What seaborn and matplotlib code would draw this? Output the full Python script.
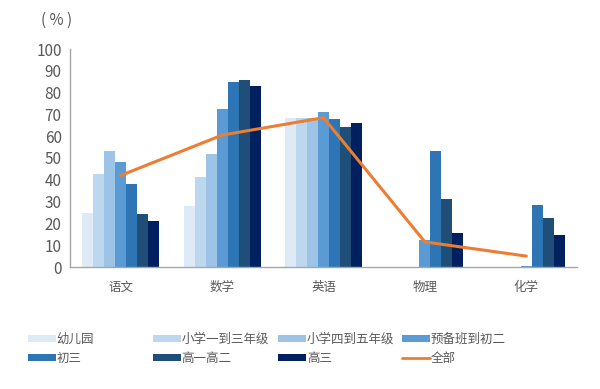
import numpy as np
import pandas as pd
import matplotlib
matplotlib.use("Agg")
import matplotlib.pyplot as plt
import seaborn as sns
from matplotlib.patches import Patch
from matplotlib.lines import Line2D

# data
subjects = ["语文", "数学", "英语", "物理", "化学"]
groups = ["幼儿园", "小学一到三年级", "小学四到五年级", "预备班到初二", "初三", "高一高二", "高三"]
kindergarten = [25, 28, 68.5, 0, 0]
primary_1_3 = [42.5, 41.5, 68.5, 0, 0]
primary_4_5 = [53, 52, 68.5, 0, 0]
prep_to_g8 = [48, 72.5, 71, 12.5, 0.5]
grade_9 = [38, 85, 68, 53, 28.5]
senior_1_2 = [24.5, 86, 64, 31, 22.5]
senior_3 = [21, 83, 66, 15.5, 14.5]
overall = [42, 60.5, 68.5, 11.5, 5]

colors = ["#DEEBF7", "#BDD7EE", "#9DC3E6", "#5B9BD5", "#2E75B6", "#1F4E79", "#002060"]
line_color = "#ED7D31"
grey = "#595959"

series = [kindergarten, primary_1_3, primary_4_5, prep_to_g8, grade_9, senior_1_2, senior_3]
df = pd.DataFrame(
    [(s, g, v) for g, vals in zip(groups, series) for s, v in zip(subjects, vals)],
    columns=["subject", "group", "value"],
)

sns.set_style("white")
plt.rcParams["font.family"] = ["Noto Sans CJK SC", "DejaVu Sans"]

fig = plt.figure(figsize=(6, 3.89), dpi=100)
ax = fig.add_axes([70 / 600, 1 - 267 / 389, 507 / 600, 218 / 389])

sns.barplot(data=df, x="subject", y="value", hue="group", order=subjects,
            hue_order=groups, palette=colors, width=0.76, gap=0,
            saturation=1, linewidth=0, ax=ax, legend=False)
sns.lineplot(x=np.arange(len(subjects)), y=overall, color=line_color,
             linewidth=2.2, ax=ax)

ax.set_xlim(-0.5, 4.5)
ax.set_ylim(0, 100)
ax.set_yticks(range(0, 101, 10))
ax.set_xlabel("")
ax.set_ylabel("")
for side in ["top", "right"]:
    ax.spines[side].set_visible(False)
for side in ["left", "bottom"]:
    ax.spines[side].set_color("#A6A6A6")
    ax.spines[side].set_linewidth(1)
ax.tick_params(axis="y", direction="in", length=4, color="#A6A6A6",
               labelsize=11, labelcolor=grey, pad=6)
ax.tick_params(axis="x", which="major", length=0, labelsize=9,
               labelcolor=grey, pad=10)
ax.set_xticks(np.arange(0.5, 5, 1), minor=True)
ax.tick_params(axis="x", which="minor", direction="in", length=4, color="#A6A6A6")

fig.text(57 / 600, 1 - 20 / 389, "( % )", ha="center", va="center",
         fontsize=11, color=grey)

# legend, one column at a time to keep even spacing
handles = [Patch(facecolor=c, edgecolor="none") for c in colors]
handles.append(Line2D([0], [0], color=line_color, linewidth=2))
labels = groups + ["全部"]
col_x = [28, 153, 278, 402]
for i, x in enumerate(col_x):
    fig.legend(handles=[handles[i], handles[i + 4]], labels=[labels[i], labels[i + 4]],
               loc="upper left", bbox_to_anchor=(x / 600, 1 - 333 / 389),
               frameon=False, fontsize=9, labelcolor=grey, handlelength=2.2,
               handleheight=0.5, handletextpad=0.1, labelspacing=0.45,
               borderpad=0, borderaxespad=0)

fig.savefig("out.png", dpi=100)
